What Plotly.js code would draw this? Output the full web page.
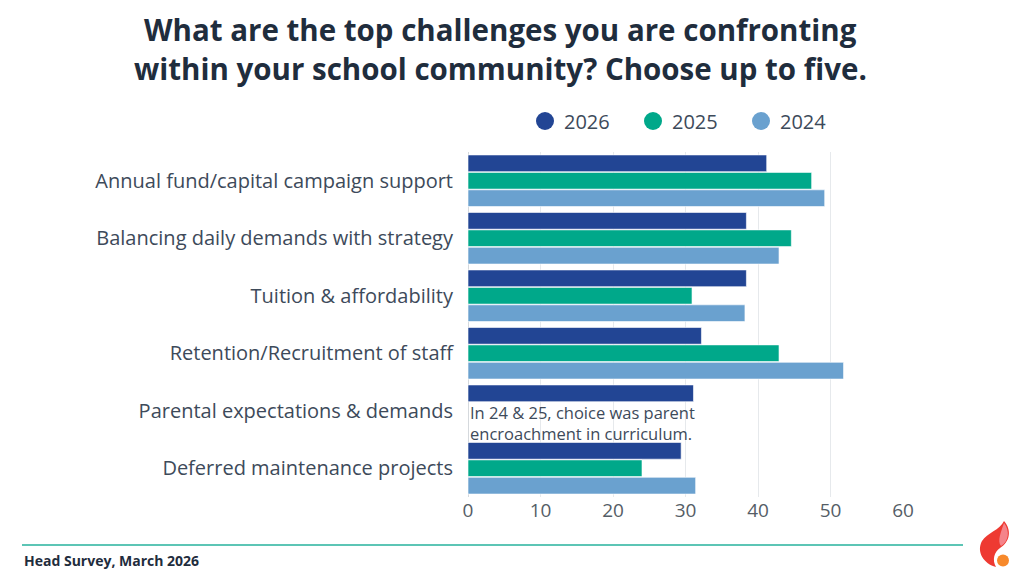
<!DOCTYPE html>
<html>
<head>
<meta charset="utf-8">
<script src="https://cdn.plot.ly/plotly-3.0.1.min.js"></script>
<style>html,body{margin:0;padding:0;background:#fff;}#chart{width:1024px;height:576px;}</style>
</head>
<body>
<div id="chart"></div>
<script>
var categories = [
  "Annual fund/capital campaign support",
  "Balancing daily demands with strategy",
  "Tuition & affordability",
  "Retention/Recruitment of staff",
  "Parental expectations & demands",
  "Deferred maintenance projects"
];
var years = ["2026", "2025", "2024"];
var values2026 = [41.2, 38.4, 38.4, 32.2, 31.1, 29.4];
var values2025 = [47.4, 44.6, 30.9, 42.9, null, 24.0];
var values2024 = [49.2, 42.9, 38.2, 51.8, null, 31.4];
var colors = ["#224594", "#00a88a", "#6aa1cf"];
var xTicks = [0, 10, 20, 30, 40, 50, 60];
var titleLines = [
  "What are the top challenges you are confronting",
  "within your school community? Choose up to five."
];
var noteText = "In 24 & 25, choice was parent<br>encroachment in curriculum.";
var footText = "Head Survey, March 2026";

var W = 1024, H = 576;
var ml = 468, mr = W - 903, mt = 152, mb = H - 497;
var pw = W - ml - mr, ph = H - mt - mb;
function px(x){ return (x - ml) / pw; }
function py(y){ return (H - mb - y) / ph; }
function f(v){ return v.toFixed(4); }

var series = [values2026, values2025, values2024];
var traces = series.map(function(vals, i){
  return {
    type: "bar", orientation: "h",
    x: vals, y: categories, name: years[i],
    marker: {color: colors[i], line: {color: "rgba(255,255,255,0.6)", width: 1}},
    hoverinfo: "x"
  };
});

var fontFam = "Open Sans, Noto Sans, sans-serif";

var flameOuter = "M" + f(px(1004)) + "," + f(py(521)) +
  " C" + f(px(1012)) + "," + f(py(530)) + " " + f(px(1010)) + "," + f(py(542)) + " " + f(px(1000)) + "," + f(py(548)) +
  " C" + f(px(994)) + "," + f(py(552)) + " " + f(px(992)) + "," + f(py(560)) + " " + f(px(996)) + "," + f(py(567)) +
  " C" + f(px(984)) + "," + f(py(564)) + " " + f(px(976)) + "," + f(py(552)) + " " + f(px(982)) + "," + f(py(541)) +
  " C" + f(px(987)) + "," + f(py(533)) + " " + f(px(1000)) + "," + f(py(530)) + " " + f(px(1004)) + "," + f(py(521)) + " Z";
var flameInner = "M" + f(px(1004)) + "," + f(py(523)) +
  " C" + f(px(1010)) + "," + f(py(531)) + " " + f(px(1009)) + "," + f(py(541)) + " " + f(px(1001)) + "," + f(py(546)) +
  " C" + f(px(997)) + "," + f(py(541)) + " " + f(px(1001)) + "," + f(py(532)) + " " + f(px(1004)) + "," + f(py(523)) + " Z";

var annotations = [
  {
    text: "<b>" + titleLines[0] + "</b>", x: px(500), y: py(30), xref: "paper", yref: "paper",
    xanchor: "center", yanchor: "middle", showarrow: false,
    font: {family: fontFam, size: 29.5, color: "#1f2d3d"}
  },
  {
    text: "<b>" + titleLines[1] + "</b>", x: px(500), y: py(68), xref: "paper", yref: "paper",
    xanchor: "center", yanchor: "middle", showarrow: false,
    font: {family: fontFam, size: 29.5, color: "#1f2d3d"}
  },
  {
    text: noteText, x: 0.05, y: categories[4], xref: "x", yref: "y",
    xanchor: "left", yanchor: "middle", yshift: -12, align: "left", showarrow: false,
    font: {family: fontFam, size: 16.5, color: "#3d4a5a"}
  },
  {
    text: "<b>" + footText + "</b>", x: px(22), y: py(560), xref: "paper", yref: "paper",
    xanchor: "left", yanchor: "middle", showarrow: false,
    font: {family: fontFam, size: 14, color: "#1f2d3d"}
  }
];

var legendX = [545, 653, 761];
var shapes = [
  {type: "line", xref: "paper", yref: "paper", x0: px(22), x1: px(963), y0: py(545), y1: py(545),
   line: {color: "#5cc5b5", width: 2}},
  {type: "path", xref: "paper", yref: "paper", path: flameOuter, fillcolor: "#ee3a32", line: {width: 0}},
  {type: "path", xref: "paper", yref: "paper", path: flameInner, fillcolor: "#f5848a", line: {width: 0}},
  {type: "circle", xref: "paper", yref: "paper", x0: px(997), x1: px(1009), y0: py(554.5), y1: py(566.5),
   fillcolor: "#f7892b", line: {width: 0}}
];
years.forEach(function(yr, i){
  shapes.push({type: "circle", xref: "paper", yref: "paper",
    x0: px(legendX[i] - 9), x1: px(legendX[i] + 9), y0: py(130), y1: py(112),
    fillcolor: colors[i], line: {width: 0}});
  annotations.push({text: yr, x: px(legendX[i] + 17), y: py(121), xref: "paper", yref: "paper",
    xanchor: "left", yanchor: "middle", showarrow: false,
    font: {family: fontFam, size: 20, color: "#3d4a5a"}});
});

var layout = {
  width: W, height: H,
  margin: {l: ml, r: mr, t: mt, b: mb, pad: 0},
  paper_bgcolor: "#ffffff", plot_bgcolor: "#ffffff",
  barmode: "group", bargap: 0.09, bargroupgap: 0.04,
  font: {family: fontFam, color: "#3d4a5a"},
  showlegend: false,
  xaxis: {
    range: [0, 60], tickvals: xTicks, ticktext: xTicks.map(String),
    showgrid: true, gridcolor: "#e6e9ec", gridwidth: 1,
    zeroline: true, zerolinecolor: "#d5d9dd", zerolinewidth: 1,
    showline: false, ticks: "",
    tickfont: {family: fontFam, size: 19, color: "#555d66"}, fixedrange: true
  },
  yaxis: {
    type: "category", categoryorder: "array", categoryarray: categories,
    autorange: "reversed", showgrid: false, zeroline: false, showline: false,
    ticks: "outside", ticklen: 10, tickcolor: "rgba(0,0,0,0)",
    tickfont: {family: fontFam, size: 20, color: "#3d4a5a"}, fixedrange: true
  },
  annotations: annotations,
  shapes: shapes
};

Plotly.newPlot("chart", traces, layout, {displayModeBar: false, staticPlot: true});
</script>
</body>
</html>
